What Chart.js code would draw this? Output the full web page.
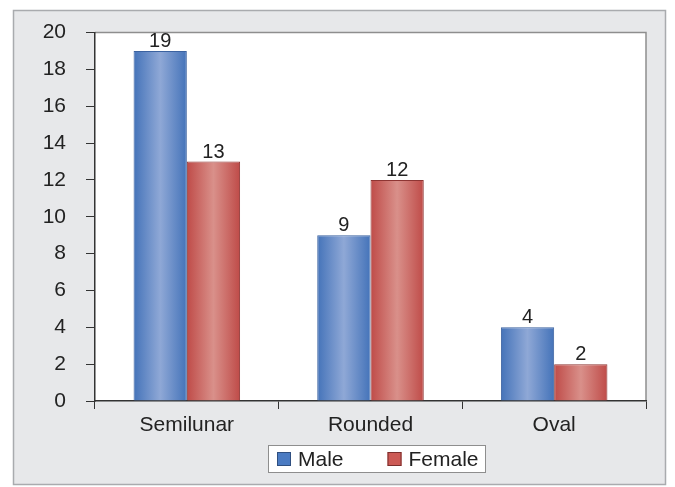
<!DOCTYPE html>
<html>
<head>
<meta charset="utf-8">
<script src="https://cdn.jsdelivr.net/npm/chart.js@4.4.1/dist/chart.umd.min.js"></script>
<style>
  html, body { margin: 0; padding: 0; background: #ffffff; }
  #wrap { width: 675px; height: 487px; position: relative; }
</style>
</head>
<body>
<div id="wrap"><canvas id="c" width="675" height="487"></canvas></div>
<script>
// Shape counts by sex
const categories = ['Semilunar', 'Rounded', 'Oval'];
const maleCounts = [19, 9, 4];
const femaleCounts = [13, 12, 2];
const yTicks = [0, 2, 4, 6, 8, 10, 12, 14, 16, 18, 20];
const seriesNames = ['Male', 'Female'];

const FONT = "'Liberation Sans', Arial, sans-serif";
const CAT_PCT = 0.58;
const SWATCH = [
  { fill: '#4b7bc2', stroke: '#2f4f80' },
  { fill: '#cc5a55', stroke: '#7a2e2c' }
];

// Cylinder-like horizontal shading for each bar
function barGradient(ctx, dark, light) {
  const chart = ctx.chart;
  const xs = chart.scales.x;
  if (!xs || ctx.type !== 'data') return dark;
  const catW = xs.width / categories.length;
  const barW = catW * CAT_PCT / 2;
  const center = xs.getPixelForValue(ctx.dataIndex);
  const left = ctx.datasetIndex === 0 ? center - barW : center;
  if (!isFinite(left) || !isFinite(barW) || barW <= 0) return dark;
  const g = chart.ctx.createLinearGradient(left, 0, left + barW, 0);
  g.addColorStop(0, dark);
  g.addColorStop(0.5, light);
  g.addColorStop(1, dark);
  return g;
}

// Grey panel, white plot area with its frame
const panelPlugin = {
  id: 'panel',
  beforeDraw(chart) {
    const c = chart.ctx;
    c.save();
    c.fillStyle = '#ffffff';
    c.fillRect(0, 0, chart.width, chart.height);
    c.fillStyle = '#e7e8ea';
    c.fillRect(13, 10, 653, 475);
    c.strokeStyle = '#a9abae';
    c.lineWidth = 1.5;
    c.strokeRect(13.5, 10.5, 652, 474);
    const a = chart.chartArea;
    c.fillStyle = '#ffffff';
    c.fillRect(a.left, a.top, a.right - a.left, a.bottom - a.top);
    c.strokeStyle = '#8e8e8e';
    c.lineWidth = 1.5;
    c.beginPath();
    c.moveTo(a.left, a.top);
    c.lineTo(a.right, a.top);
    c.lineTo(a.right, a.bottom);
    c.stroke();
    c.restore();
  }
};

// Framed legend below the category labels
const boxedLegend = {
  id: 'boxedLegend',
  afterDraw(chart) {
    const c = chart.ctx;
    c.save();
    const x0 = 268, y0 = 445, w = 217, h = 27;
    c.fillStyle = '#ffffff';
    c.fillRect(x0, y0, w, h);
    c.strokeStyle = '#8e8e8e';
    c.lineWidth = 1;
    c.strokeRect(x0 + 0.5, y0 + 0.5, w, h);
    c.font = '21px ' + FONT;
    c.textBaseline = 'middle';
    c.textAlign = 'left';
    let x = 277;
    const cy = y0 + h / 2 + 0.5;
    seriesNames.forEach((name, i) => {
      c.fillStyle = SWATCH[i].fill;
      c.fillRect(x, cy - 7, 14, 14);
      c.strokeStyle = SWATCH[i].stroke;
      c.strokeRect(x + 0.5, cy - 6.5, 13, 13);
      c.fillStyle = '#222222';
      c.fillText(name, x + 21, cy + 1);
      x += 21 + c.measureText(name).width + 44;
    });
    c.restore();
  }
};

// Value written above each bar
const valueLabels = {
  id: 'valueLabels',
  afterDatasetsDraw(chart) {
    const c = chart.ctx;
    c.save();
    c.font = '20px ' + FONT;
    c.fillStyle = '#222222';
    c.textAlign = 'center';
    c.textBaseline = 'alphabetic';
    chart.data.datasets.forEach((ds, di) => {
      chart.getDatasetMeta(di).data.forEach((bar, i) => {
        c.fillText(String(ds.data[i]), bar.x, bar.y - 4);
      });
    });
    c.restore();
  }
};

new Chart(document.getElementById('c'), {
  type: 'bar',
  data: {
    labels: categories,
    datasets: [
      {
        label: seriesNames[0],
        data: maleCounts,
        backgroundColor: ctx => barGradient(ctx, '#4473b9', '#8fa8d6'),
        borderColor: '#3b62a0',
        borderWidth: 1,
        categoryPercentage: CAT_PCT,
        barPercentage: 1
      },
      {
        label: seriesNames[1],
        data: femaleCounts,
        backgroundColor: ctx => barGradient(ctx, '#bf4b48', '#d9908a'),
        borderColor: '#8e3533',
        borderWidth: 1,
        categoryPercentage: CAT_PCT,
        barPercentage: 1
      }
    ]
  },
  options: {
    responsive: false,
    animation: false,
    layout: { padding: { left: 0, right: 29, top: 32, bottom: 46 } },
    plugins: {
      tooltip: { enabled: false },
      legend: { display: false }
    },
    scales: {
      x: {
        afterFit(s) { s.height = 40; },
        grid: { display: true, drawOnChartArea: false, drawTicks: true, tickLength: 8, color: '#333333', offset: true },
        border: { display: true, color: '#333333', width: 1.5 },
        ticks: { font: { family: FONT, size: 21 }, color: '#222222', padding: 4 }
      },
      y: {
        min: 0,
        max: 20,
        afterFit(s) { s.width = 95; },
        afterBuildTicks(s) { s.ticks = yTicks.map(v => ({ value: v })); },
        grid: { display: true, drawOnChartArea: false, drawTicks: true, tickLength: 9, color: '#333333' },
        border: { display: true, color: '#333333', width: 1.5 },
        ticks: { font: { family: FONT, size: 21 }, color: '#222222', padding: 20 }
      }
    }
  },
  plugins: [panelPlugin, valueLabels, boxedLegend]
});
</script>
</body>
</html>
